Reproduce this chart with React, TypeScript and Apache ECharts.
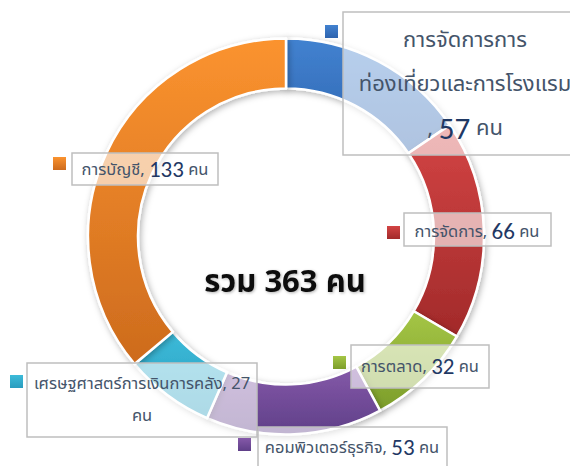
import React, { useEffect, useRef } from 'react';
import * as echarts from 'echarts';

const categories = [
  'การจัดการการท่องเที่ยวและการโรงแรม',
  'การจัดการ',
  'การตลาด',
  'คอมพิวเตอร์ธุรกิจ',
  'เศรษฐศาสตร์การเงินการคลัง',
  'การบัญชี',
];
const values = [57, 66, 32, 53, 27, 133];
const unit = 'คน';
const totalLabel = 'รวม 363 คน';
const colorTop = ['#4282D0', '#D34444', '#A5C646', '#8559A9', '#3CBBD9', '#FB932F'];
const colorBottom = ['#2D63AE', '#A22A2A', '#7C9D2A', '#5F3F88', '#2A9CBE', '#CD6B1D'];

// label box layout: box rect, colour square, text centre, name break, line height, font sizes
const labelLayout = [
  { box: [343, 12, 245, 143], sq: [325, 25], tc: [465, 84], nameBreak: 12, unitBreak: false, lh: 44, fs: 22, ns: 31 },
  { box: [404, 213, 147, 33], sq: [387, 226], tc: [477, 231], nameBreak: 0, unitBreak: false, lh: 24, fs: 16.5, ns: 23 },
  { box: [351, 345, 138, 43], sq: [333, 356], tc: [420, 366], nameBreak: 0, unitBreak: false, lh: 24, fs: 16.5, ns: 23 },
  { box: [258, 427, 189, 50], sq: [238, 438], tc: [352, 447], nameBreak: 0, unitBreak: false, lh: 24, fs: 16.5, ns: 23 },
  { box: [27, 363, 230, 74], sq: [10, 375], tc: [142, 399], nameBreak: 0, unitBreak: true, lh: 32, fs: 16.5, ns: 16.5 },
  { box: [72, 153, 146, 32], sq: [53, 157], tc: [145, 169], nameBreak: 0, unitBreak: false, lh: 24, fs: 16.5, ns: 23 },
];

const THAI_FONT = "Tahoma, 'Noto Sans Thai', 'Leelawadee UI', 'DejaVu Sans', sans-serif";
const NUM_FONT = "Calibri, Carlito, 'Open Sans', sans-serif";

function grad(i: number) {
  return new echarts.graphic.LinearGradient(0, 0, 0, 1, [
    { offset: 0, color: colorTop[i] },
    { offset: 1, color: colorBottom[i] },
  ]);
}

function labelText(i: number) {
  const L = labelLayout[i];
  const name = categories[i];
  if (L.nameBreak > 0) {
    return `{t|${name.slice(0, L.nameBreak)}}\n{t|${name.slice(L.nameBreak)}}\n{t|, }{n|${values[i]}}{t| ${unit}}`;
  }
  if (L.unitBreak) {
    return `{t|${name}, ${values[i]}}\n{t|${unit}}`;
  }
  return `{t|${name}, }{n|${values[i]}}{t| ${unit}}`;
}

export default function App() {
  const ref = useRef<HTMLDivElement>(null);
  useEffect(() => {
    document.body.style.margin = '0';
    const chart = echarts.init(ref.current!, null, { renderer: 'svg' });
    const graphics: any[] = [];
    categories.forEach((_, i) => {
      const L = labelLayout[i];
      graphics.push({
        type: 'rect',
        z: 100,
        shape: { x: L.box[0], y: L.box[1], width: L.box[2], height: L.box[3] },
        style: { fill: 'rgba(255,255,255,0.62)', stroke: '#BFBFBF', lineWidth: 1.5 },
      });
      graphics.push({
        type: 'rect',
        z: 100,
        shape: { x: L.sq[0], y: L.sq[1], width: 13, height: 13 },
        style: { fill: grad(i) },
      });
      graphics.push({
        type: 'text',
        z: 101,
        x: L.tc[0],
        y: L.tc[1],
        style: {
          text: labelText(i),
          align: 'center',
          verticalAlign: 'middle',
          rich: {
            t: { fontSize: L.fs, fontFamily: THAI_FONT, fill: '#44546A', lineHeight: L.lh },
            n: { fontSize: L.ns, fontFamily: NUM_FONT, fontWeight: 500, fill: '#1F3864', lineHeight: L.lh },
          },
        },
      });
    });
    graphics.push({
      type: 'text',
      z: 101,
      x: 285,
      y: 282,
      style: {
        text: totalLabel,
        align: 'center',
        verticalAlign: 'middle',
        fontSize: 31,
        fontWeight: 'bold',
        fontFamily: THAI_FONT,
        fill: '#111',
        textShadowColor: 'rgba(0,0,0,0.3)',
        textShadowBlur: 3,
        textShadowOffsetX: 1,
        textShadowOffsetY: 1,
      },
    });

    chart.setOption({
      animation: false,
      backgroundColor: '#fff',
      series: [
        {
          type: 'pie',
          center: [286, 236.5],
          radius: [148, 198],
          startAngle: 90,
          clockwise: true,
          label: { show: false },
          labelLine: { show: false },
          emphasis: { disabled: true },
          itemStyle: {
            borderColor: '#fff',
            borderWidth: 2.5,
            shadowBlur: 6,
            shadowColor: 'rgba(0,0,0,0.3)',
            shadowOffsetX: 1.5,
            shadowOffsetY: 2,
          },
          data: categories.map((name, i) => ({
            name,
            value: values[i],
            itemStyle: { color: grad(i) },
          })),
        },
      ],
      graphic: graphics,
    });
    return () => chart.dispose();
  }, []);
  return <div ref={ref} style={{ width: 570, height: 466 }} />;
}
